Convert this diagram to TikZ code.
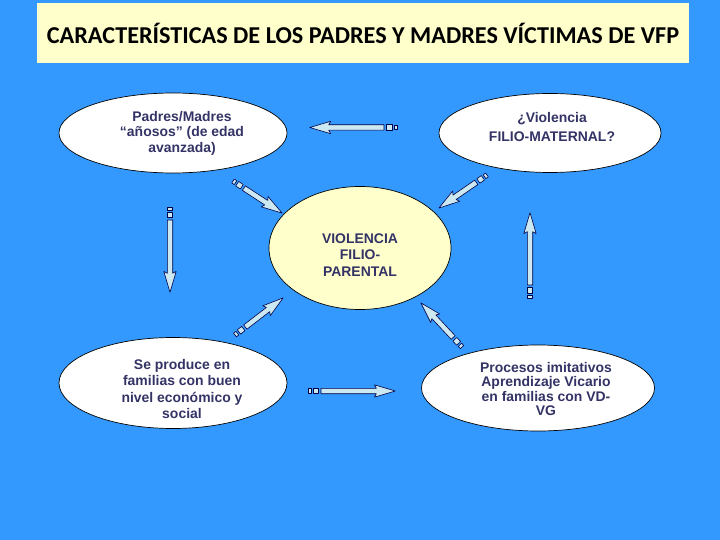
\documentclass[tikz,border=0pt]{standalone}
\usepackage{fontspec}
\setmainfont{Liberation Sans}
\newfontfamily\titlefont{Carlito}
\usetikzlibrary{shapes.geometric,calc}
\definecolor{slidebg}{RGB}{51,153,255}
\definecolor{paleyellow}{RGB}{255,255,204}
\definecolor{navytext}{RGB}{51,51,102}
\definecolor{arrowfill}{RGB}{204,232,240}
\definecolor{arrowline}{RGB}{0,0,70}
\tikzset{stripe/.style={draw=arrowline, fill=arrowfill, line width=0.6pt, line join=round}}
% striped block arrow from #1 (tail) to #2 (tip)
\newcommand{\striparrow}[2]{%
  \path let \p1=($(#2)-(#1)$) in
    \pgfextra{\pgfmathsetmacro{\arrang}{atan2(\y1,\x1)}\pgfmathsetmacro{\arrlen}{veclen(\x1,\y1)}%
      \xdef\arrang{\arrang}\xdef\arrlen{\arrlen}};
  \begin{scope}[shift={(#1)}, rotate=\arrang, x=1bp, y=1bp]
    \draw[stripe] (0,-2.3) rectangle (3,2.3);
    \draw[stripe] (5,-2.7) rectangle (10.5,2.7);
    \draw[stripe] (13,-2.7) -- (\arrlen-19,-2.7) -- (\arrlen-21,-6.2) -- (\arrlen,0)
      -- (\arrlen-21,6.2) -- (\arrlen-19,2.7) -- (13,2.7) -- cycle;
  \end{scope}
}

\begin{document}
\begin{tikzpicture}[x=1bp, y=-1bp,
  bubble/.style={draw, ellipse, fill=white, line width=0.7pt, inner sep=0pt},
  txt/.style={text=navytext, font=\fontsize{14}{16.5}\selectfont\bfseries, align=center, inner sep=0pt}]
\fill[slidebg] (0,0) rectangle (720,540);
\node[fill=paleyellow, minimum width=652bp, minimum height=60bp, inner sep=0pt,
  font=\titlefont\fontsize{24.3}{28}\selectfont\bfseries] (title) at (363,33)
  {CARACTERÍSTICAS DE LOS PADRES Y MADRES VÍCTIMAS DE VFP};

\node[bubble, minimum width=228bp, minimum height=80bp] (padres) at (173,133) {};
\node[txt, font=\fontsize{14}{15.5}\selectfont\bfseries] (padrestxt) at (182,133) {Padres/Madres\\“añosos” (de edad\\avanzada)};
\node[bubble, minimum width=222bp, minimum height=79bp] (filiomat) at (550,133) {};
\node[txt] (filiomattxt) at (552,127) {¿Violencia\\[3.5bp]FILIO-MATERNAL?};
\node[bubble, fill=paleyellow, minimum width=182bp, minimum height=123bp] (vfp) at (360,248) {};
\node[txt] (vfptxt) at (360,255) {VIOLENCIA\\FILIO-\\PARENTAL};
\node[bubble, minimum width=228bp, minimum height=91bp] (nivel) at (173,383) {};
\node[txt] (niveltxt) at (182,389) {Se produce en\\familias con buen\\nivel económico y\\social};
\node[bubble, minimum width=233bp, minimum height=86bp] (procesos) at (538,388) {};
\node[txt, font=\fontsize{14}{14.5}\selectfont\bfseries] (procesostxt) at (546,389) {Procesos imitativos\\Aprendizaje Vicario\\en familias con VD-\\VG};

% arrow ends
\coordinate (top-tail) at (397,127.5);
\coordinate (top-tip) at (310,127.5);
\coordinate (left-tail) at (170,207);
\coordinate (left-tip) at (170,292);
\coordinate (bot-tail) at (308,391);
\coordinate (bot-tip) at (395,391);
\coordinate (right-tail) at (530,298);
\coordinate (right-tip) at (530,213);
\coordinate (tl-tail) at (233,181);
\coordinate (tl-tip) at (282,213);
\coordinate (tr-tail) at (487,175);
\coordinate (tr-tip) at (439,208);
\coordinate (bl-tail) at (235,335);
\coordinate (bl-tip) at (283,298);
\coordinate (br-tail) at (462,347);
\coordinate (br-tip) at (421,303);

\striparrow{top-tail}{top-tip}
\striparrow{left-tail}{left-tip}
\striparrow{bot-tail}{bot-tip}
\striparrow{right-tail}{right-tip}
\striparrow{tl-tail}{tl-tip}
\striparrow{tr-tail}{tr-tip}
\striparrow{bl-tail}{bl-tip}
\striparrow{br-tail}{br-tip}
\end{tikzpicture}
\end{document}
